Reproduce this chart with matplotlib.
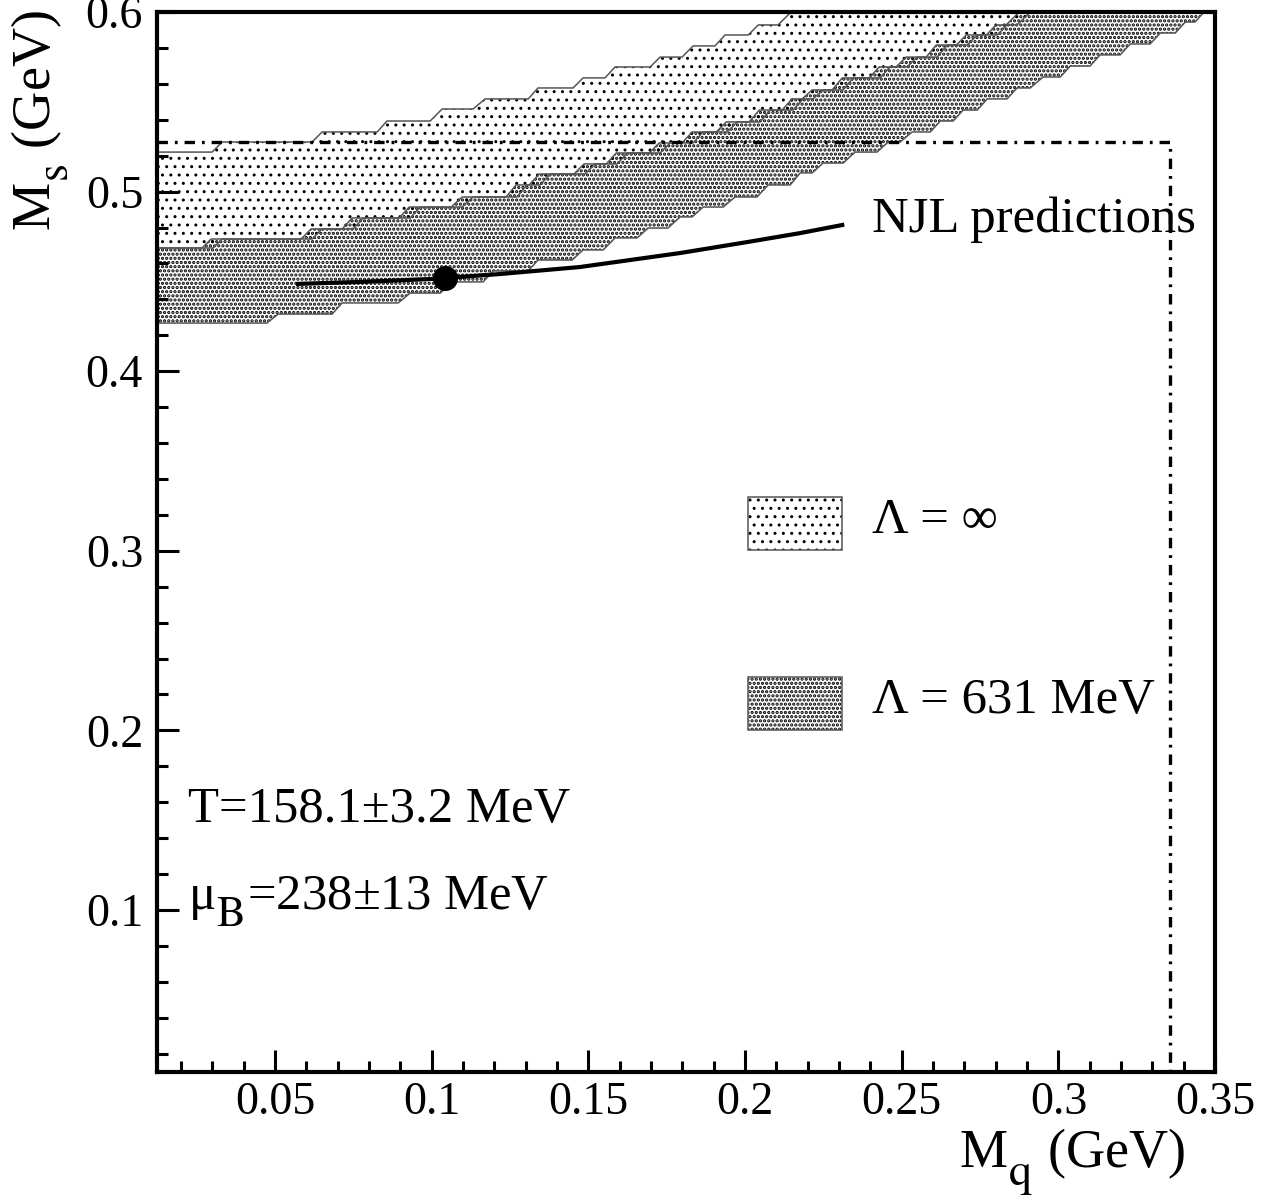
import matplotlib
matplotlib.use("Agg")
import matplotlib.pyplot as plt
import matplotlib._mathtext as mathtext_internals
from matplotlib.patches import Polygon, Rectangle
from matplotlib.ticker import FixedLocator, FuncFormatter

plt.rcParams['font.family'] = ['Liberation Serif', 'DejaVu Serif']
plt.rcParams['mathtext.fontset'] = 'stix'
plt.rcParams['lines.scale_dashes'] = False
# ROOT-style subscripts: bigger and dropped lower than matplotlib's default
mathtext_internals.SHRINK_FACTOR = 0.85
mathtext_internals.STIXFontConstants.sub1 = 0.75
mathtext_internals.STIXFontConstants.sub2 = 0.9

# band edges (GeV)
# Lambda = infinity band
light_up_x = [0.0123, 0.0299, 0.0331, 0.0618, 0.0650, 0.0826, 0.0857, 0.0995, 0.1033, 0.1132,
              0.1170, 0.1308, 0.1339, 0.1451, 0.1483, 0.1553, 0.1585, 0.1697, 0.1729, 0.1799,
              0.1834, 0.1904, 0.1936, 0.2010, 0.2042, 0.2105, 0.2137, 0.2169]
light_up_y = [0.5220, 0.5220, 0.5276, 0.5276, 0.5332, 0.5332, 0.5393, 0.5393, 0.5460, 0.5460,
              0.5516, 0.5516, 0.5577, 0.5577, 0.5633, 0.5633, 0.5694, 0.5694, 0.5749, 0.5749,
              0.5811, 0.5811, 0.5872, 0.5872, 0.5928, 0.5928, 0.5983, 0.6039]
light_lo_x = [0.0123, 0.0302, 0.0331, 0.0618, 0.0650, 0.0749, 0.0781, 0.0931, 0.0963, 0.1097,
              0.1132, 0.1272, 0.1304, 0.1346, 0.1378, 0.1489, 0.1521, 0.1592, 0.1624, 0.1729,
              0.1761, 0.1834, 0.1866, 0.1943, 0.1975, 0.2048, 0.2080, 0.2153, 0.2185, 0.2217,
              0.2249, 0.2313, 0.2345, 0.2431, 0.2463, 0.2517, 0.2549, 0.2613, 0.2645, 0.2709,
              0.2741, 0.2805, 0.2836, 0.2868, 0.2900, 0.2932]
light_lo_y = [0.4686, 0.4686, 0.4736, 0.4736, 0.4792, 0.4792, 0.4853, 0.4853, 0.4914, 0.4914,
              0.4970, 0.4970, 0.5037, 0.5037, 0.5098, 0.5098, 0.5154, 0.5154, 0.5215, 0.5215,
              0.5271, 0.5271, 0.5332, 0.5332, 0.5388, 0.5388, 0.5454, 0.5454, 0.5516, 0.5516,
              0.5566, 0.5566, 0.5633, 0.5633, 0.5694, 0.5694, 0.5749, 0.5749, 0.5816, 0.5816,
              0.5872, 0.5872, 0.5928, 0.5928, 0.5983, 0.6039]

# Lambda = 631 MeV band
dark_up_x = [0.0123, 0.0267, 0.0296, 0.0583, 0.0615, 0.0714, 0.0746, 0.0896, 0.0928, 0.1062,
             0.1097, 0.1237, 0.1269, 0.1311, 0.1343, 0.1454, 0.1486, 0.1557, 0.1589, 0.1694,
             0.1726, 0.1799, 0.1831, 0.1908, 0.1940, 0.2013, 0.2045, 0.2118, 0.2150, 0.2182,
             0.2214, 0.2278, 0.2310, 0.2396, 0.2428, 0.2482, 0.2514, 0.2578, 0.2610, 0.2674,
             0.2706, 0.2770, 0.2801, 0.2833, 0.2865, 0.2897]
dark_up_y = light_lo_y
dark_lo_x = [0.0123, 0.0474, 0.0510, 0.0682, 0.0714, 0.0893, 0.0931, 0.1027, 0.1065, 0.1164,
             0.1196, 0.1308, 0.1339, 0.1448, 0.1483, 0.1547, 0.1585, 0.1655, 0.1691, 0.1754,
             0.1793, 0.1831, 0.1866, 0.1930, 0.1968, 0.2038, 0.2074, 0.2144, 0.2176, 0.2214,
             0.2249, 0.2313, 0.2351, 0.2421, 0.2457, 0.2495, 0.2533, 0.2591, 0.2623, 0.2664,
             0.2696, 0.2741, 0.2773, 0.2836, 0.2868, 0.2910, 0.2951, 0.3006, 0.3038, 0.3101,
             0.3133, 0.3197, 0.3229, 0.3293, 0.3325, 0.3373, 0.3405, 0.3436, 0.3468]
dark_lo_y = [0.4268, 0.4268, 0.4318, 0.4318, 0.4380, 0.4380, 0.4435, 0.4435, 0.4497, 0.4497,
             0.4558, 0.4558, 0.4619, 0.4619, 0.4675, 0.4675, 0.4742, 0.4742, 0.4797, 0.4797,
             0.4859, 0.4859, 0.4914, 0.4914, 0.4970, 0.4970, 0.5037, 0.5037, 0.5104, 0.5104,
             0.5159, 0.5159, 0.5220, 0.5220, 0.5276, 0.5276, 0.5332, 0.5332, 0.5393, 0.5393,
             0.5454, 0.5454, 0.5516, 0.5516, 0.5577, 0.5577, 0.5638, 0.5638, 0.5699, 0.5699,
             0.5761, 0.5761, 0.5822, 0.5822, 0.5883, 0.5883, 0.5944, 0.5944, 0.6006]

# NJL prediction curve and fitted point
njl_x = [0.0573, 0.0771, 0.0995, 0.1218, 0.1473, 0.1793, 0.2007, 0.2176, 0.2310]
njl_y = [0.4486, 0.4497, 0.4513, 0.4541, 0.4580, 0.4658, 0.4719, 0.4769, 0.4814]
point_x, point_y = 0.1043, 0.4519

# dash-dotted bound
bound_x, bound_y = 0.3357, 0.5276

xlim = (0.0123, 0.35)
ylim = (0.0098, 0.6)
x_major = [0.05, 0.1, 0.15, 0.2, 0.25, 0.3, 0.35]
x_minor = [0.02, 0.03, 0.04, 0.06, 0.07, 0.08, 0.09, 0.11, 0.12, 0.13, 0.14, 0.16, 0.17,
           0.18, 0.19, 0.21, 0.22, 0.23, 0.24, 0.26, 0.27, 0.28, 0.29, 0.31, 0.32, 0.33, 0.34]
y_major = [0.1, 0.2, 0.3, 0.4, 0.5, 0.6]
y_minor = [0.02, 0.04, 0.06, 0.08, 0.12, 0.14, 0.16, 0.18, 0.22, 0.24, 0.26, 0.28, 0.32, 0.34,
           0.36, 0.38, 0.42, 0.44, 0.46, 0.48, 0.52, 0.54, 0.56, 0.58]

LIGHT = ('..', 1.0)
DARK = ('....', 1.6)

fig = plt.figure(figsize=(12.73, 12.0), dpi=100)
ax = fig.add_axes([0.1233, 0.1067, 0.8312, 0.8833])


def hatched(patch, style):
    patch.set_hatch(style[0])
    try:
        patch.set_hatch_linewidth(style[1])
    except AttributeError:
        pass
    ax.add_patch(patch)


def band(xs_up, ys_up, xs_lo, ys_lo, style):
    px = list(xs_up) + list(xs_lo)[::-1]
    py = list(ys_up) + list(ys_lo)[::-1]
    hatched(Polygon(list(zip(px, py)), closed=True, facecolor='none', edgecolor='black',
                    linewidth=0), style)
    ax.plot(xs_up, ys_up, color='#555555', lw=1.1)
    ax.plot(xs_lo, ys_lo, color='#555555', lw=1.1)


band(light_up_x, light_up_y, light_lo_x, light_lo_y, LIGHT)
band(dark_up_x, dark_up_y, dark_lo_x, dark_lo_y, DARK)

ax.plot(njl_x, njl_y, color='black', lw=3)
ax.plot([point_x], [point_y], 'o', color='black', ms=17)

ax.plot([xlim[0], bound_x, bound_x], [bound_y, bound_y, ylim[0]], color='black', lw=2.4,
        linestyle=(0, (7.5, 5, 2, 5)), dash_capstyle='butt')

# legend boxes
for yb, style in [(0.4925, LIGHT), (0.3226, DARK)]:
    hatched(Rectangle((0.5586, yb), 0.0888, 0.05, transform=ax.transAxes,
                      facecolor='none', edgecolor='black', linewidth=0), style)
    ax.add_patch(Rectangle((0.5586, yb), 0.0888, 0.05, transform=ax.transAxes,
                           facecolor='none', edgecolor='#555555', linewidth=1.1))

big = 36.5
ax.text(0.6758, 0.5085, 'Λ = ∞', transform=ax.transAxes, fontsize=big, va='baseline')
ax.text(0.6758, 0.3387, 'Λ = 631 MeV', transform=ax.transAxes, fontsize=big, va='baseline')
ax.text(0.6758, 0.7925, 'NJL predictions', transform=ax.transAxes, fontsize=big, va='baseline')
ax.text(0.0293, 0.2358, 'T=158.1±3.2 MeV', transform=ax.transAxes, fontsize=big, va='baseline')
ax.text(0.0293, 0.1528, r'μ$_{\mathrm{B}}$=238±13 MeV', transform=ax.transAxes, fontsize=big,
        va='baseline')

ax.set_xlim(*xlim)
ax.set_ylim(*ylim)
ax.xaxis.set_major_locator(FixedLocator(x_major))
ax.xaxis.set_minor_locator(FixedLocator(x_minor))
ax.yaxis.set_major_locator(FixedLocator(y_major))
ax.yaxis.set_minor_locator(FixedLocator(y_minor))
fmt = FuncFormatter(lambda v, p: '%g' % v)
ax.xaxis.set_major_formatter(fmt)
ax.yaxis.set_major_formatter(fmt)
ax.tick_params(which='both', direction='in', top=False, right=False, width=2.2, labelsize=33)
ax.tick_params(which='major', length=16)
ax.tick_params(which='minor', length=8)
ax.tick_params(axis='x', pad=7)
ax.tick_params(axis='y', pad=10)
for s in ax.spines.values():
    s.set_linewidth(3)

fig.text(1185 / 1273, 1 - 1167 / 1200, r'M$_{\mathrm{q}}$ (GeV)', fontsize=39,
         ha='right', va='baseline')
fig.text(50 / 1273, 1 - 10 / 1200, r'M$_{\mathrm{s}}$ (GeV)', fontsize=39, rotation=90,
         rotation_mode='anchor', ha='right', va='baseline')

fig.savefig('out.png', dpi=100)
